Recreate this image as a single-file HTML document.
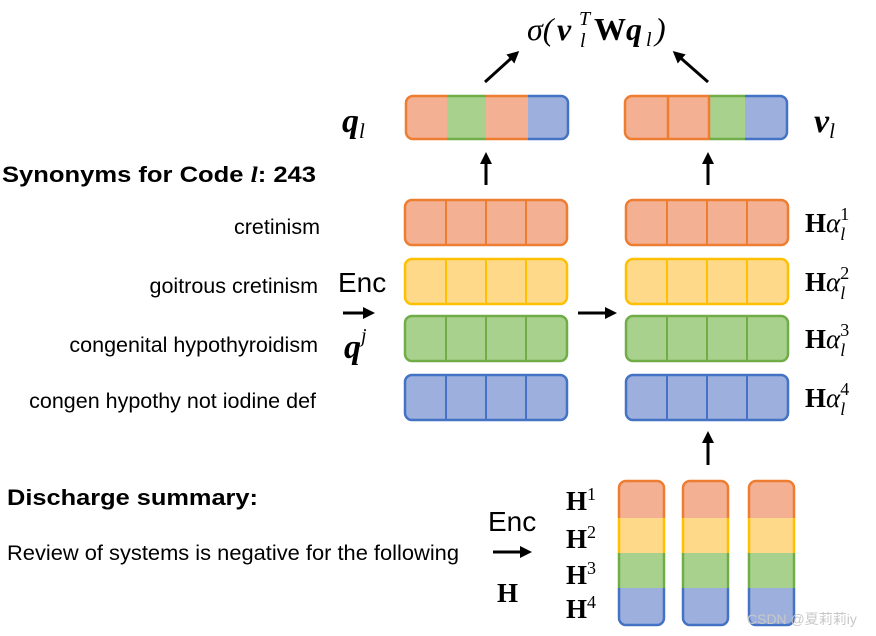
<!DOCTYPE html>
<html><head><meta charset="utf-8"><style>
html,body{margin:0;padding:0;background:#fff;}
svg{display:block;}
.s{font-family:"Liberation Sans",sans-serif;fill:#000;}
.m{font-family:"Liberation Serif",serif;fill:#000;}
</style></head><body>
<svg width="876" height="636" viewBox="0 0 876 636" xmlns="http://www.w3.org/2000/svg">
<defs>
<marker id="ah" markerWidth="12" markerHeight="12" refX="9" refY="6" orient="auto" markerUnits="userSpaceOnUse">
<path d="M0,0 L12,6 L0,12 Z" fill="#000"/></marker>
<clipPath id="cq"><rect x="406" y="95" width="162" height="45" rx="7"/></clipPath>
<clipPath id="cv"><rect x="625" y="95" width="162" height="45" rx="7"/></clipPath>
<clipPath id="c1"><rect x="618" y="480" width="47" height="146" rx="8"/></clipPath>
<clipPath id="c2"><rect x="682" y="480" width="47" height="146" rx="8"/></clipPath>
<clipPath id="c3"><rect x="748" y="480" width="47" height="146" rx="8"/></clipPath>
</defs>

<g class="m">
<text x="527" y="40" font-size="32" font-style="italic">σ(</text>
<text x="557" y="40" font-size="32" font-style="italic" font-weight="bold">v</text>
<text x="579" y="25" font-size="20" font-style="italic">T</text>
<text x="580" y="47" font-size="20" font-style="italic">l</text>
<text x="594" y="40" font-size="32" font-weight="bold">W</text>
<text x="626" y="40" font-size="32" font-style="italic" font-weight="bold">q</text>
<text x="646" y="46" font-size="20" font-style="italic">l</text>
<text x="655" y="40" font-size="32" font-style="italic">)</text>
</g>
<line x1="485" y1="82" x2="517" y2="53" stroke="#000" stroke-width="3" marker-end="url(#ah)"/>
<line x1="708" y1="82" x2="675" y2="53" stroke="#000" stroke-width="3" marker-end="url(#ah)"/>

<g clip-path="url(#cq)">
<rect x="406" y="95" width="41" height="45" fill="#f4b093"/>
<rect x="447" y="95" width="39" height="45" fill="#a9d18e"/>
<rect x="486" y="95" width="42" height="45" fill="#f4b093"/>
<rect x="528" y="95" width="40" height="45" fill="#9dafdc"/>
</g>
<path d="M447,96 H413 a7,7 0 0 0 -7,7 V132 a7,7 0 0 0 7,7 H447 M486,96 H528 M486,139 H528" fill="none" stroke="#ed7d31" stroke-width="2.5"/>
<path d="M447,96 H486 M447,139 H486" stroke="#70ad47" stroke-width="2.5"/>
<path d="M528,96 H561 a7,7 0 0 1 7,7 V132 a7,7 0 0 1 -7,7 H528" fill="none" stroke="#4472c4" stroke-width="2.5"/>

<g clip-path="url(#cv)">
<rect x="625" y="95" width="84" height="45" fill="#f4b093"/>
<rect x="709" y="95" width="36" height="45" fill="#a9d18e"/>
<rect x="745" y="95" width="42" height="45" fill="#9dafdc"/>
</g>
<path d="M709,96 H632 a7,7 0 0 0 -7,7 V132 a7,7 0 0 0 7,7 H709 M668,96 V139 M709,96 V139" fill="none" stroke="#ed7d31" stroke-width="2.5"/>
<path d="M709,96 H745 M709,139 H745" stroke="#70ad47" stroke-width="2.5"/>
<path d="M745,96 H780 a7,7 0 0 1 7,7 V132 a7,7 0 0 1 -7,7 H745" fill="none" stroke="#4472c4" stroke-width="2.5"/>

<text x="342" y="132" class="m" font-size="34" font-weight="bold" font-style="italic">q<tspan font-size="21" font-weight="normal" dy="6">l</tspan></text>
<text x="814" y="132" class="m" font-size="34" font-weight="bold" font-style="italic">v<tspan font-size="21" font-weight="normal" dy="6">l</tspan></text>

<line x1="486" y1="185" x2="486" y2="155" stroke="#000" stroke-width="3" marker-end="url(#ah)"/>
<line x1="708" y1="185" x2="708" y2="155" stroke="#000" stroke-width="3" marker-end="url(#ah)"/>

<text x="2" y="182" class="s" font-size="22" font-weight="bold" textLength="314" lengthAdjust="spacingAndGlyphs">Synonyms for Code <tspan font-family="Liberation Serif" font-style="italic">l</tspan>: 243</text>

<g stroke-width="2.5">
<rect x="405" y="200" width="162" height="45" rx="7" fill="#f4b093" stroke="#ed7d31"/>
<rect x="405" y="259" width="162" height="45" rx="7" fill="#ffd98a" stroke="#ffc000"/>
<rect x="405" y="316" width="162" height="45" rx="7" fill="#a9d18e" stroke="#70ad47"/>
<rect x="405" y="375" width="162" height="45" rx="7" fill="#9dafdc" stroke="#4472c4"/>
<rect x="626" y="200" width="162" height="45" rx="7" fill="#f4b093" stroke="#ed7d31"/>
<rect x="626" y="259" width="162" height="45" rx="7" fill="#ffd98a" stroke="#ffc000"/>
<rect x="626" y="316" width="162" height="45" rx="7" fill="#a9d18e" stroke="#70ad47"/>
<rect x="626" y="375" width="162" height="45" rx="7" fill="#9dafdc" stroke="#4472c4"/>
</g>
<g stroke-width="2">
<path d="M446,200V245M486,200V245M526,200V245M667,200V245M707,200V245M747,200V245" stroke="#ed7d31"/>
<path d="M446,259V304M486,259V304M526,259V304M667,259V304M707,259V304M747,259V304" stroke="#ffc000"/>
<path d="M446,316V361M486,316V361M526,316V361M667,316V361M707,316V361M747,316V361" stroke="#70ad47"/>
<path d="M446,375V420M486,375V420M526,375V420M667,375V420M707,375V420M747,375V420" stroke="#4472c4"/>
</g>

<g class="s" font-size="21.5" text-anchor="end">
<text x="320" y="234">cretinism</text>
<text x="318" y="293">goitrous cretinism</text>
<text x="318" y="352">congenital hypothyroidism</text>
<text x="316" y="408">congen hypothy not iodine def</text>
</g>

<text x="338" y="292" class="s" font-size="28">Enc</text>
<line x1="343" y1="313" x2="372" y2="313" stroke="#000" stroke-width="3" marker-end="url(#ah)"/>
<text x="344" y="358" class="m" font-size="34" font-weight="bold" font-style="italic">q<tspan font-size="20" font-weight="normal" dy="-16">j</tspan></text>

<line x1="578" y1="313" x2="614" y2="313" stroke="#000" stroke-width="3" marker-end="url(#ah)"/>

<g class="m" font-size="27" font-weight="bold">
<text x="805" y="232">H<tspan font-style="italic" font-weight="normal">α</tspan><tspan font-size="18" font-weight="normal" dy="-12">1</tspan><tspan font-size="18" font-weight="normal" font-style="italic" dx="-9" dy="20">l</tspan></text>
<text x="805" y="291">H<tspan font-style="italic" font-weight="normal">α</tspan><tspan font-size="18" font-weight="normal" dy="-12">2</tspan><tspan font-size="18" font-weight="normal" font-style="italic" dx="-9" dy="20">l</tspan></text>
<text x="805" y="348">H<tspan font-style="italic" font-weight="normal">α</tspan><tspan font-size="18" font-weight="normal" dy="-12">3</tspan><tspan font-size="18" font-weight="normal" font-style="italic" dx="-9" dy="20">l</tspan></text>
<text x="805" y="407">H<tspan font-style="italic" font-weight="normal">α</tspan><tspan font-size="18" font-weight="normal" dy="-12">4</tspan><tspan font-size="18" font-weight="normal" font-style="italic" dx="-9" dy="20">l</tspan></text>
</g>

<line x1="708" y1="465" x2="708" y2="434" stroke="#000" stroke-width="3" marker-end="url(#ah)"/>

<text x="7" y="505" class="s" font-size="22" font-weight="bold" textLength="251" lengthAdjust="spacingAndGlyphs">Discharge summary:</text>
<text x="7" y="560" class="s" font-size="21.5" textLength="452" lengthAdjust="spacingAndGlyphs">Review of systems is negative for the following</text>
<text x="488" y="531" class="s" font-size="28">Enc</text>
<line x1="493" y1="552" x2="529" y2="552" stroke="#000" stroke-width="3" marker-end="url(#ah)"/>
<text x="497" y="602" class="m" font-size="27" font-weight="bold">H</text>

<g class="m" font-size="27" font-weight="bold">
<text x="566" y="510">H<tspan font-size="18" font-weight="normal" dy="-10">1</tspan></text>
<text x="566" y="548">H<tspan font-size="18" font-weight="normal" dy="-10">2</tspan></text>
<text x="566" y="584">H<tspan font-size="18" font-weight="normal" dy="-10">3</tspan></text>
<text x="566" y="618">H<tspan font-size="18" font-weight="normal" dy="-10">4</tspan></text>
</g>

<g clip-path="url(#c1)">
<rect x="618" y="480" width="47" height="38" fill="#f4b093"/><rect x="618" y="518" width="47" height="35" fill="#ffd98a"/><rect x="618" y="553" width="47" height="35" fill="#a9d18e"/><rect x="618" y="588" width="47" height="38" fill="#9dafdc"/>
</g>
<g clip-path="url(#c2)">
<rect x="682" y="480" width="47" height="38" fill="#f4b093"/><rect x="682" y="518" width="47" height="35" fill="#ffd98a"/><rect x="682" y="553" width="47" height="35" fill="#a9d18e"/><rect x="682" y="588" width="47" height="38" fill="#9dafdc"/>
</g>
<g clip-path="url(#c3)">
<rect x="748" y="480" width="47" height="38" fill="#f4b093"/><rect x="748" y="518" width="47" height="35" fill="#ffd98a"/><rect x="748" y="553" width="47" height="35" fill="#a9d18e"/><rect x="748" y="588" width="47" height="38" fill="#9dafdc"/>
</g>
<g fill="none" stroke-width="2.5">
<path d="M619,518V488a7,7 0 0 1 7,-7H657a7,7 0 0 1 7,7V518" stroke="#ed7d31"/>
<path d="M683,518V488a7,7 0 0 1 7,-7H721a7,7 0 0 1 7,7V518" stroke="#ed7d31"/>
<path d="M749,518V488a7,7 0 0 1 7,-7H787a7,7 0 0 1 7,7V518" stroke="#ed7d31"/>
<path d="M619,518V553M664,518V553M683,518V553M728,518V553M749,518V553M794,518V553" stroke="#ffc000"/>
<path d="M619,553V588M664,553V588M683,553V588M728,553V588M749,553V588M794,553V588" stroke="#70ad47"/>
<path d="M619,588V618a7,7 0 0 0 7,7H657a7,7 0 0 0 7,-7V588" stroke="#4472c4"/>
<path d="M683,588V618a7,7 0 0 0 7,7H721a7,7 0 0 0 7,-7V588" stroke="#4472c4"/>
<path d="M749,588V618a7,7 0 0 0 7,7H787a7,7 0 0 0 7,-7V588" stroke="#4472c4"/>
</g>
<text x="747" y="624" font-size="14" style="fill:#c8c8c8" font-family="Liberation Sans, Noto Sans CJK SC, sans-serif">CSDN @夏莉莉iy</text>
</svg>
</body></html>
